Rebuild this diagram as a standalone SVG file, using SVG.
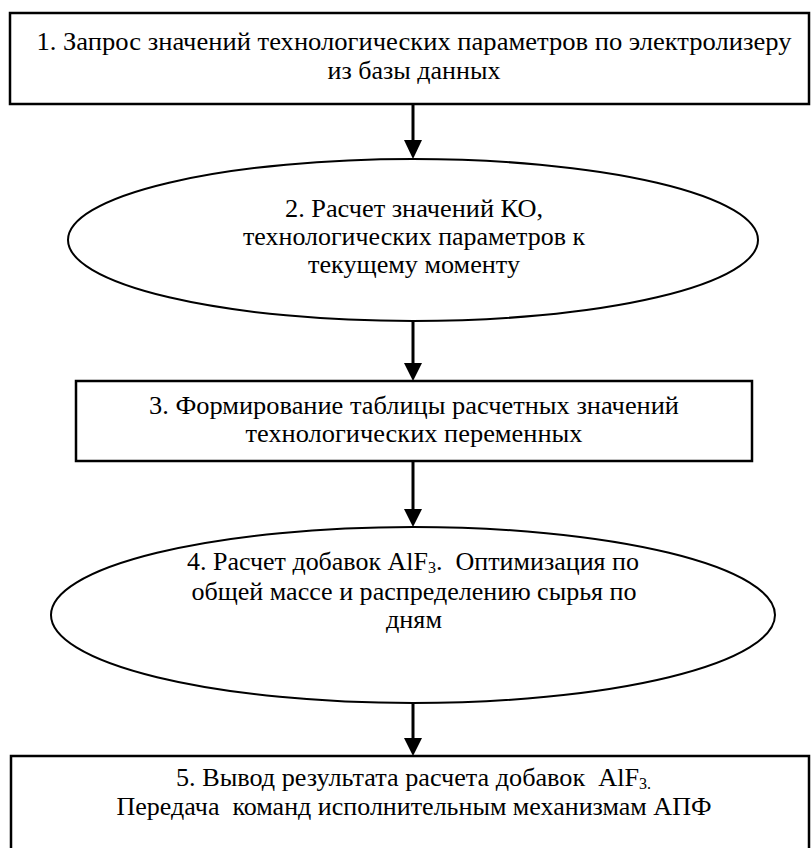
<svg xmlns="http://www.w3.org/2000/svg" width="811" height="848" viewBox="0 0 811 848">
<style>
.n{fill:#fff;stroke:#000;stroke-width:2.5}
.e{fill:#fff;stroke:#000;stroke-width:2}
.t{font-family:"Liberation Serif","DejaVu Serif","Times New Roman",serif;font-size:26px;fill:#000;text-anchor:middle;white-space:pre}
.l{text-anchor:start}
.s{font-size:16px}
.c{stroke:#000;stroke-width:3;fill:none}
.h{fill:#000}
</style>
<rect width="811" height="848" fill="#fff"/>
<g id="n1">
<rect class="n" x="10" y="13" width="799" height="91"/>
<text class="t" x="414" y="50" textLength="755" lengthAdjust="spacingAndGlyphs">1. Запрос значений технологических параметров по электролизеру</text>
<text class="t" x="414" y="79" textLength="173" lengthAdjust="spacingAndGlyphs">из базы данных</text>
</g>
<g id="n2">
<ellipse class="e" cx="413" cy="240" rx="345" ry="81"/>
<text class="t" x="414" y="217" textLength="258" lengthAdjust="spacingAndGlyphs">2. Расчет значений КО,</text>
<text class="t" x="414" y="245" textLength="342" lengthAdjust="spacingAndGlyphs">технологических параметров к</text>
<text class="t" x="414" y="273" textLength="212" lengthAdjust="spacingAndGlyphs">текущему моменту</text>
</g>
<g id="n3">
<rect class="n" x="76" y="381" width="676" height="80"/>
<text class="t" x="414" y="414" textLength="530" lengthAdjust="spacingAndGlyphs">3. Формирование таблицы расчетных значений</text>
<text class="t" x="414" y="442" textLength="337" lengthAdjust="spacingAndGlyphs">технологических переменных</text>
</g>
<g id="n4">
<ellipse class="e" cx="413" cy="615" rx="362" ry="88"/>
<text class="t l" x="187" y="570"><tspan textLength="241" lengthAdjust="spacingAndGlyphs">4. Расчет добавок AlF</tspan><tspan class="s" dy="3">3</tspan><tspan dy="-3" textLength="203" lengthAdjust="spacingAndGlyphs">.  Оптимизация по</tspan></text>
<text class="t" x="414" y="600" textLength="445" lengthAdjust="spacingAndGlyphs">общей массе и распределению сырья по</text>
<text class="t" x="414" y="628" textLength="56" lengthAdjust="spacingAndGlyphs">дням</text>
</g>
<g id="n5">
<rect class="n" x="11" y="756" width="798" height="100"/>
<text class="t l" x="176" y="786"><tspan textLength="463" lengthAdjust="spacingAndGlyphs">5. Вывод результата расчета добавок  AlF</tspan><tspan class="s" dy="3">3.</tspan></text>
<text class="t" x="414" y="815" textLength="595" lengthAdjust="spacingAndGlyphs">Передача  команд исполнительным механизмам АПФ</text>
</g>
<g id="connectors">
<line class="c" x1="413" y1="104" x2="413" y2="141"/>
<polygon class="h" points="404,140 422,140 413,159"/>
<line class="c" x1="413" y1="321" x2="413" y2="364"/>
<polygon class="h" points="404,363 422,363 413,381"/>
<line class="c" x1="413" y1="461" x2="413" y2="510"/>
<polygon class="h" points="404,509 422,509 413,527"/>
<line class="c" x1="413" y1="703" x2="413" y2="739"/>
<polygon class="h" points="404,738 422,738 413,756"/>
</g>
</svg>
